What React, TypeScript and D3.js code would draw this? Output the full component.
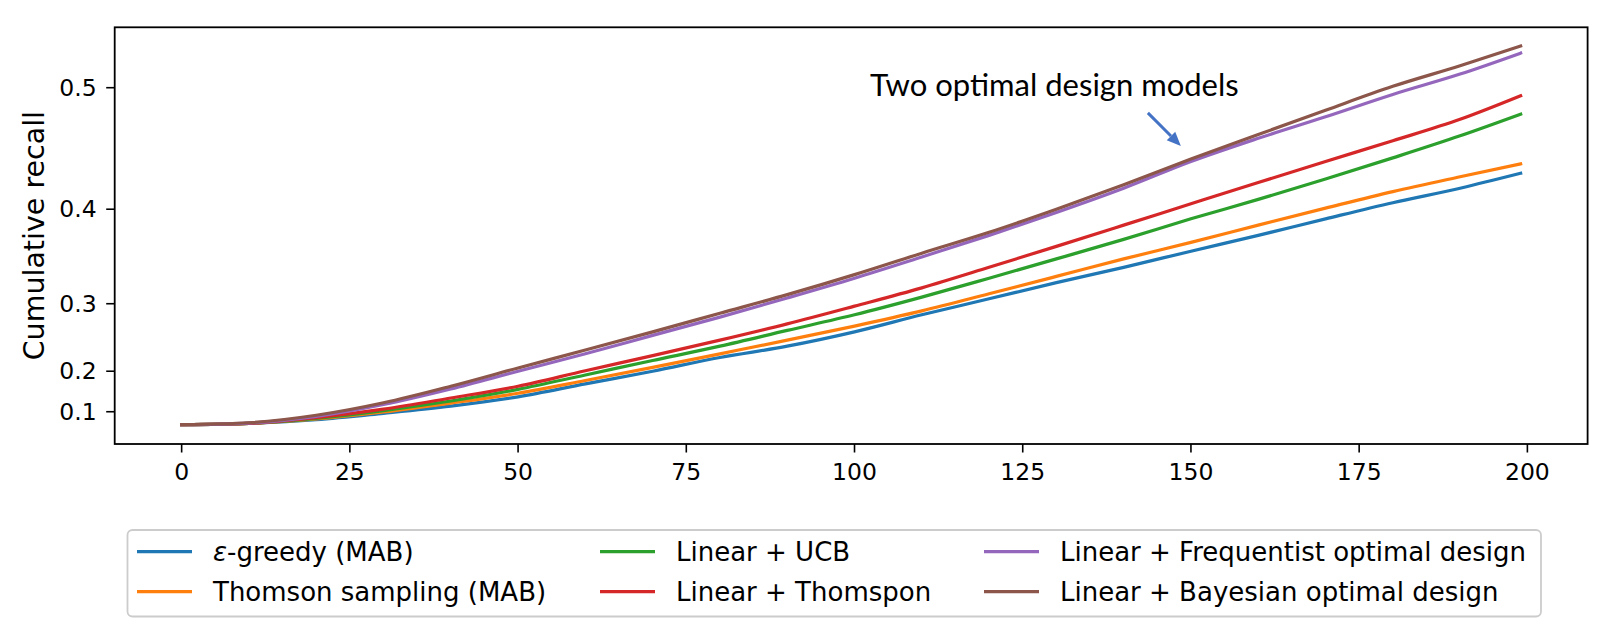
import * as d3 from 'd3';

// rounds sampled every 10 steps (last one is 199)
const rounds = [0, 10, 20, 30, 40, 50, 60, 70, 80, 90, 100, 110, 120, 130, 140, 150, 160, 170, 180, 190, 199];

const epsGreedy = [0.02, 0.037, 0.064, 0.094, 0.119, 0.145, 0.175, 0.200, 0.224, 0.242, 0.263, 0.286, 0.306, 0.325, 0.342, 0.359, 0.375, 0.391, 0.406, 0.419, 0.432];
const thomsonMab = [0.02, 0.037, 0.068, 0.099, 0.128, 0.154, 0.182, 0.207, 0.230, 0.251, 0.271, 0.291, 0.312, 0.332, 0.351, 0.368, 0.385, 0.401, 0.416, 0.429, 0.440];
const linearUcb = [0.02, 0.037, 0.071, 0.104, 0.134, 0.163, 0.193, 0.219, 0.242, 0.265, 0.286, 0.308, 0.330, 0.351, 0.371, 0.391, 0.409, 0.427, 0.445, 0.463, 0.480];
const linearThompson = [0.02, 0.037, 0.075, 0.109, 0.142, 0.170, 0.201, 0.227, 0.251, 0.274, 0.297, 0.319, 0.342, 0.364, 0.385, 0.405, 0.424, 0.442, 0.459, 0.476, 0.494];
const linearFreq = [0.02, 0.040, 0.081, 0.124, 0.164, 0.200, 0.230, 0.258, 0.283, 0.307, 0.330, 0.353, 0.375, 0.397, 0.419, 0.442, 0.461, 0.478, 0.495, 0.510, 0.525];
const linearBayes = [0.02, 0.043, 0.086, 0.129, 0.170, 0.206, 0.236, 0.263, 0.288, 0.311, 0.334, 0.357, 0.378, 0.400, 0.422, 0.444, 0.464, 0.483, 0.501, 0.516, 0.530];

const seriesNames = [
  'ε-greedy (MAB)',
  'Thomson sampling (MAB)',
  'Linear + UCB',
  'Linear + Thomspon',
  'Linear + Frequentist optimal design',
  'Linear + Bayesian optimal design',
];
const seriesValues = [epsGreedy, thomsonMab, linearUcb, linearThompson, linearFreq, linearBayes];
const colors = ['#1f77b4', '#ff7f0e', '#2ca02c', '#d62728', '#9467bd', '#8c564b'];

const xTicks = [0, 25, 50, 75, 100, 125, 150, 175, 200];
const yTicks = [0.1, 0.2, 0.3, 0.4, 0.5];

const W = 1606;
const H = 634;
const tickFont = 'DejaVu Sans, sans-serif';

const App = () => {
  const x = d3.scaleLinear().domain([-9.95, 208.95]).range([114.7, 1587.6]);
  // y axis is quadratic (matplotlib margins in squared space give a negative floor)
  const y = d3.scalePow().exponent(2).domain([-0.1179, 0.5429]).range([444, 27.3]);

  const line = d3.line<[number, number]>()
    .x(d => x(d[0]))
    .y(d => y(d[1]))
    .curve(d3.curveMonotoneX);

  const [x0, x1] = x.range();
  const [yb, yt] = y.range();

  // annotation in data coords
  const tail = { x: 143.6, y: 0.481 };
  const tip = { x: 148.5, y: 0.4548 };
  const tx = x(tip.x), ty = y(tip.y);
  const sx = x(tail.x), sy = y(tail.y);
  const ang = Math.atan2(ty - sy, tx - sx);
  const headLen = 14, headW = 6;
  const bx = tx - headLen * Math.cos(ang), by = ty - headLen * Math.sin(ang);
  const head = [
    [tx, ty],
    [bx + headW * Math.sin(ang), by - headW * Math.cos(ang)],
    [bx - headW * Math.sin(ang), by + headW * Math.cos(ang)],
  ].map(p => p.join(',')).join(' ');

  const legendCols = [137, 600, 984];
  const legendRows = [551.7, 591.7];

  return (
    <div style={{ position: 'absolute', left: 0, top: 0 }}>
      <svg width={W} height={H} style={{ display: 'block', background: '#fff' }}>
        <defs>
          <clipPath id="plotclip">
            <rect x={x0} y={yt} width={x1 - x0} height={yb - yt} />
          </clipPath>
        </defs>
        <g clipPath="url(#plotclip)">
          {seriesValues.map((vals, i) => (
            <path
              key={i}
              d={line(rounds.map((r, j) => [r, vals[j]] as [number, number])) || ''}
              fill="none"
              stroke={colors[i]}
              strokeWidth={3.2}
              strokeLinejoin="round"
              strokeLinecap="square"
            />
          ))}
        </g>

        <rect x={x0} y={yt} width={x1 - x0} height={yb - yt} fill="none" stroke="#000" strokeWidth={1.8} />

        {xTicks.map(t => (
          <g key={t} transform={`translate(${x(t)},${yb})`}>
            <line y2={8.5} stroke="#000" strokeWidth={1.6} />
            <text y={27.7} dy="0.35em" textAnchor="middle" fontFamily={tickFont} fontSize={23.5} fill="#000">{t}</text>
          </g>
        ))}

        {yTicks.map(t => (
          <g key={t} transform={`translate(${x0},${y(t)})`}>
            <line x2={-8.5} stroke="#000" strokeWidth={1.6} />
            <text x={-18} dy="0.35em" textAnchor="end" fontFamily={tickFont} fontSize={23.5} fill="#000">{t.toFixed(1)}</text>
          </g>
        ))}

        <text
          transform={`translate(34.3,${(yb + yt) / 2}) rotate(-90)`}
          dy="0.35em"
          textAnchor="middle"
          fontFamily={tickFont}
          fontSize={28.5}
          fill="#000"
        >
          Cumulative recall
        </text>

        <text x={x(102.3)} y={y(0.4938)} fontFamily="Lato, sans-serif" fontSize={31} fill="#000">
          Two optimal design models
        </text>
        <line x1={sx} y1={sy} x2={bx} y2={by} stroke="#4472c4" strokeWidth={3} />
        <polygon points={head} fill="#4472c4" />

        <rect x={127.5} y={530} width={1413.5} height={86.5} rx={5} fill="#fff" fillOpacity={0.8} stroke="#cccccc" strokeWidth={1.8} />
        {seriesNames.map((name, i) => {
          const cx = legendCols[Math.floor(i / 2)];
          const cy = legendRows[i % 2];
          const isEps = name.startsWith('ε');
          return (
            <g key={name}>
              <line x1={cx} x2={cx + 55} y1={cy} y2={cy} stroke={colors[i]} strokeWidth={3.2} />
              <text x={cx + 76} y={cy} dy="0.35em" fontFamily={tickFont} fontSize={26} fill="#000">
                {isEps ? (
                  <>
                    <tspan fontStyle="italic">ε</tspan>
                    <tspan>{name.slice(1)}</tspan>
                  </>
                ) : name}
              </text>
            </g>
          );
        })}
      </svg>
    </div>
  );
};

export default App;
